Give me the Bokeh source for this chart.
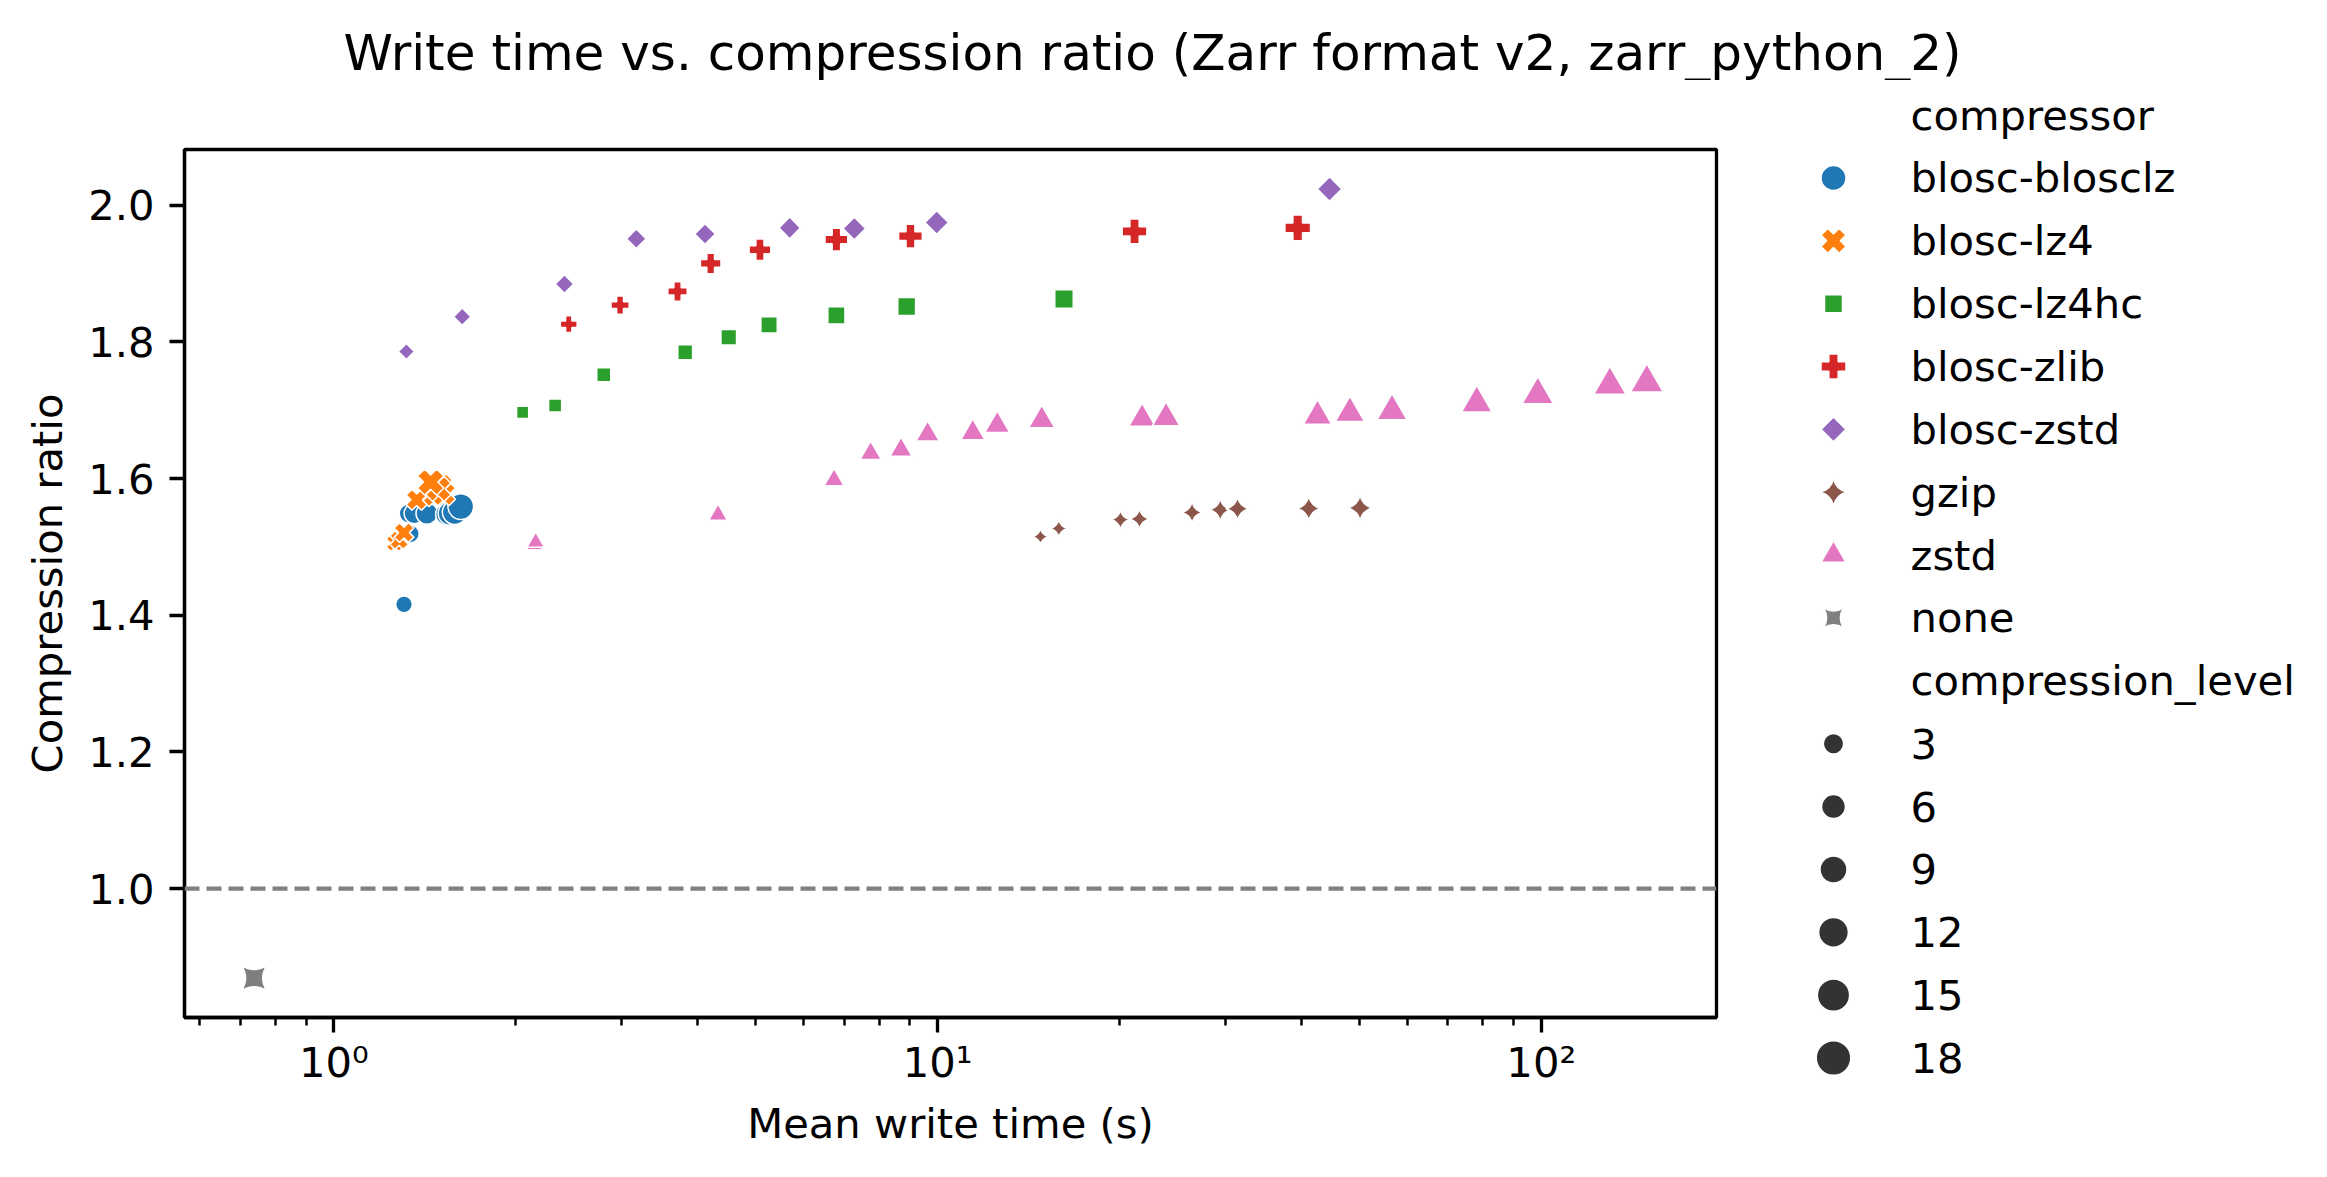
import math
import numpy as np
from bokeh.plotting import figure
from bokeh.layouts import column, row
from bokeh.models import (ColumnDataSource, Range1d, FixedTicker, Span,
                          NumeralTickFormatter, CustomJSTickFormatter)
from bokeh.core.properties import value
from bokeh.embed import file_html
from bokeh.resources import INLINE

# ---------------- data ----------------
TITLE = "Write time vs. compression ratio (Zarr format v2, zarr_python_2)"
X_LABEL = "Mean write time (s)"
Y_LABEL = "Compression ratio"
HUE_TITLE = "compressor"
SIZE_TITLE = "compression_level"

compressors = ["blosc-blosclz", "blosc-lz4", "blosc-lz4hc", "blosc-zlib",
               "blosc-zstd", "gzip", "zstd", "none"]

blosc_levels = [1, 2, 3, 4, 5, 6, 7, 8, 9]

blosclz_time = [1.307, 1.338, 1.332, 1.36, 1.426, 1.54, 1.558, 1.586, 1.623]
blosclz_ratio = [1.416, 1.519, 1.549, 1.549, 1.549, 1.548, 1.549, 1.551, 1.559]

lz4_time = [1.262, 1.283, 1.307, 1.372, 1.466, 1.504, 1.519, 1.49, 1.447]
lz4_ratio = [1.506, 1.510, 1.521, 1.569, 1.575, 1.590, 1.578, 1.585, 1.595]

lz4hc_time = [2.055, 2.326, 2.80, 3.82, 4.51, 5.26, 6.80, 8.89, 16.2]
lz4hc_ratio = [1.697, 1.707, 1.752, 1.785, 1.807, 1.825, 1.839, 1.852, 1.863]

zlib_time = [2.45, 2.98, 3.71, 4.21, 5.08, 6.80, 9.02, 21.2, 39.5]
zlib_ratio = [1.826, 1.854, 1.874, 1.915, 1.935, 1.950, 1.955, 1.962, 1.967]

bzstd_time = [1.319, 1.632, 2.41, 3.17, 4.12, 5.69, 7.28, 9.97, 44.6]
bzstd_ratio = [1.786, 1.837, 1.885, 1.951, 1.958, 1.967, 1.966, 1.975, 2.024]

gzip_time = [14.81, 15.88, 20.09, 21.6, 26.4, 29.4, 31.4, 41.2, 50.1]
gzip_ratio = [1.515, 1.527, 1.540, 1.541, 1.5505, 1.5545, 1.556, 1.5564, 1.557]

zstd_levels = list(range(1, 20))
zstd_time = [2.15, 2.16, 4.33, 6.74, 7.75, 8.70, 9.63, 11.44, 12.56, 14.88,
             21.82, 23.91, 42.6, 48.2, 56.6, 78.2, 98.7, 129.9, 149.6]
zstd_ratio = [1.503, 1.507, 1.547, 1.598, 1.637, 1.642, 1.665, 1.667, 1.678, 1.6855,
              1.688, 1.689, 1.6915, 1.696, 1.699, 1.7105, 1.7228, 1.7372, 1.7406]

none_time = [0.738]
none_ratio = [0.869]

size_legend_levels = [3, 6, 9, 12, 15, 18]

x_major_ticks = [1, 10, 100]
x_tick_labels = ["10\u2070", "10\u00b9", "10\u00b2"]
y_ticks = [1.0, 1.2, 1.4, 1.6, 1.8, 2.0]
reference_ratio = 1.0

series = {
    "blosc-blosclz": (blosclz_time, blosclz_ratio, blosc_levels),
    "blosc-lz4": (lz4_time, lz4_ratio, blosc_levels),
    "blosc-lz4hc": (lz4hc_time, lz4hc_ratio, blosc_levels),
    "blosc-zlib": (zlib_time, zlib_ratio, blosc_levels),
    "blosc-zstd": (bzstd_time, bzstd_ratio, blosc_levels),
    "gzip": (gzip_time, gzip_ratio, blosc_levels),
    "zstd": (zstd_time, zstd_ratio, zstd_levels),
    "none": (none_time, none_ratio, None),
}

# ---------------- styles ----------------
colors = ["#1f77b4", "#ff7f0e", "#2ca02c", "#d62728", "#9467bd", "#8c564b", "#e377c2", "#7f7f7f"]
SIZE_COLOR = "#333333"
# marker, angle, data-size factor, legend-size factor (relative to mpl marker diameter)
shapes = {
    "blosc-blosclz": ("circle", 0.0, 0.95, 1.0),
    "blosc-lz4": ("plus", math.pi / 4, 1.0, 1.03),
    "blosc-lz4hc": ("square", 0.0, 0.685, 0.72),
    "blosc-zlib": ("plus", 0.0, 0.95, 1.0),
    "blosc-zstd": ("square", math.pi / 4, 0.64, 0.707),
    "gzip": ("square_pin", math.pi / 4, 0.66, 0.76),
    "zstd": ("triangle", 0.0, 0.93, 1.0),
    "none": ("square_pin", 0.0, 0.0, 0.8),
}
NONE_SIZE = 25.0
LEGEND_DIAM = 25.0
PX_PER_PT = 300 / 72.0
FONT = "DejaVu Sans"
FS = "41.7px"

all_levels = [l for (_, _, lv) in series.values() if lv for l in lv]
LV_LO, LV_HI = min(all_levels), max(all_levels)


def mpl_diam(level):
    area = 18 + 54 * (level - LV_LO) / (LV_HI - LV_LO)
    return PX_PER_PT * math.sqrt(area)


def no_align(fig):
    try:
        fig.frame_align = False
    except AttributeError:
        pass


# ---------------- layout geometry (px) ----------------
PAGE_W, PAGE_H = 2311, 1161
TITLE_H = 80
MAIN_W = 1756
LEG_W = PAGE_W - MAIN_W
BODY_H = PAGE_H - TITLE_H
FRAME_L, FRAME_R, FRAME_T, FRAME_B = 184, 1716, 149, 1017

# ---------------- title strip ----------------
tf = figure(width=PAGE_W, height=TITLE_H, x_range=Range1d(0, PAGE_W), y_range=Range1d(TITLE_H, 0),
            x_axis_location=None, y_axis_location=None, toolbar_location=None,
            output_backend="svg", min_border=0, outline_line_color=None)
tf.grid.visible = False
no_align(tf)
tf.text(x=[1152], y=[52], text=[TITLE], text_font=value(FONT), text_font_size="50px",
        text_align="center", text_baseline="middle", text_color="black")

# ---------------- main plot ----------------
all_t = np.array([t for (ts, _, _) in series.values() for t in ts])
all_r = np.array([r for (_, rs, _) in series.values() for r in rs])
lt = np.log10(all_t)
padx = 0.05 * (lt.max() - lt.min())
pady = 0.05 * (all_r.max() - all_r.min())

p = figure(width=MAIN_W, height=BODY_H, x_axis_type="log", output_backend="svg",
           toolbar_location=None,
           x_range=Range1d(10 ** (lt.min() - padx), 10 ** (lt.max() + padx)),
           y_range=Range1d(all_r.min() - pady, all_r.max() + pady))
no_align(p)
p.min_border_left = FRAME_L
p.min_border_right = MAIN_W - FRAME_R
p.min_border_top = FRAME_T - TITLE_H
p.min_border_bottom = PAGE_H - FRAME_B
p.background_fill_color = "white"
p.border_fill_color = "white"
p.outline_line_color = "black"
p.outline_line_width = 3.3
p.grid.visible = False

for ax in (p.xaxis[0], p.yaxis[0]):
    ax.axis_line_color = "black"
    ax.axis_line_width = 3.3
    ax.major_tick_line_width = 3.3
    ax.major_tick_out = 15
    ax.major_tick_in = 0
    ax.minor_tick_line_width = 2.5
    ax.minor_tick_out = 8
    ax.minor_tick_in = 0
    ax.major_label_text_font = FONT
    ax.major_label_text_font_size = FS
    ax.major_label_text_color = "black"
    ax.axis_label_text_font = FONT
    ax.axis_label_text_font_size = FS
    ax.axis_label_text_font_style = "normal"
    ax.axis_label_text_color = "black"

x_minor = [m * 10.0 ** e for e in range(-1, 3) for m in range(2, 10)]
p.xaxis.ticker = FixedTicker(ticks=x_major_ticks, minor_ticks=x_minor)
p.xaxis.formatter = CustomJSTickFormatter(
    args=dict(majors=x_major_ticks, names=x_tick_labels),
    code="const i = majors.indexOf(tick); return i >= 0 ? names[i] : '';")
p.xaxis.axis_label = X_LABEL
p.xaxis.major_label_standoff = 5
p.xaxis.axis_label_standoff = 9

p.yaxis.ticker = FixedTicker(ticks=y_ticks)
p.yaxis.formatter = NumeralTickFormatter(format="0.0")
p.yaxis.minor_tick_line_color = None
p.yaxis.axis_label = Y_LABEL
p.yaxis.major_label_standoff = 15
p.yaxis.axis_label_standoff = 13

p.add_layout(Span(location=reference_ratio, dimension="width", line_color="#808080",
                  line_width=4.2, line_dash="15 7"))

for name, color in zip(compressors, colors):
    ts, rs, lv = series[name]
    marker, ang, fac, _ = shapes[name]
    if lv is None:
        sz = [NONE_SIZE] * len(ts)
    else:
        sz = [mpl_diam(l) * fac for l in lv]
    src = ColumnDataSource(dict(t=ts, r=rs, sz=sz))
    p.scatter(x="t", y="r", source=src, marker=marker, angle=ang, size="sz",
              fill_color=color, line_color="white", line_width=1.5)

# ---------------- legend panel ----------------
MX = 1833.0 - MAIN_W          # marker centre x inside the legend panel
LX = 1910.0 - MAIN_W          # label left x
ROW0 = 114.6 - TITLE_H        # first row centre y (from the panel top)
DY = 62.86                    # row pitch

lf = figure(width=LEG_W, height=BODY_H, x_range=Range1d(0, LEG_W), y_range=Range1d(BODY_H, 0),
            x_axis_location=None, y_axis_location=None, toolbar_location=None,
            output_backend="svg", min_border=0, outline_line_color=None)
lf.grid.visible = False
no_align(lf)

row_labels = [HUE_TITLE] + compressors + [SIZE_TITLE] + [str(l) for l in size_legend_levels]
row_y = [ROW0 + DY * i for i in range(len(row_labels))]

mk = dict(x=[], y=[], marker=[], angle=[], size=[], color=[])
for k, (name, color) in enumerate(zip(compressors, colors)):
    marker, ang, _, lfac = shapes[name]
    mk["x"].append(MX); mk["y"].append(row_y[1 + k]); mk["marker"].append(marker)
    mk["angle"].append(ang); mk["size"].append(LEGEND_DIAM * lfac); mk["color"].append(color)
base = 2 + len(compressors)
for k, lvl in enumerate(size_legend_levels):
    mk["x"].append(MX); mk["y"].append(row_y[base + k]); mk["marker"].append("circle")
    mk["angle"].append(0.0); mk["size"].append(mpl_diam(lvl)); mk["color"].append(SIZE_COLOR)

lf.scatter(x="x", y="y", marker="marker", angle="angle", size="size", fill_color="color",
           line_color="white", line_width=1.5, source=ColumnDataSource(mk))
lf.text(x=[LX] * len(row_labels), y=row_y, text=row_labels, text_font=value(FONT),
        text_font_size=FS, text_align="left", text_baseline="middle", text_color="black")

layout = column(tf, row(p, lf))
open("out.html", "w").write(file_html(layout, INLINE))
